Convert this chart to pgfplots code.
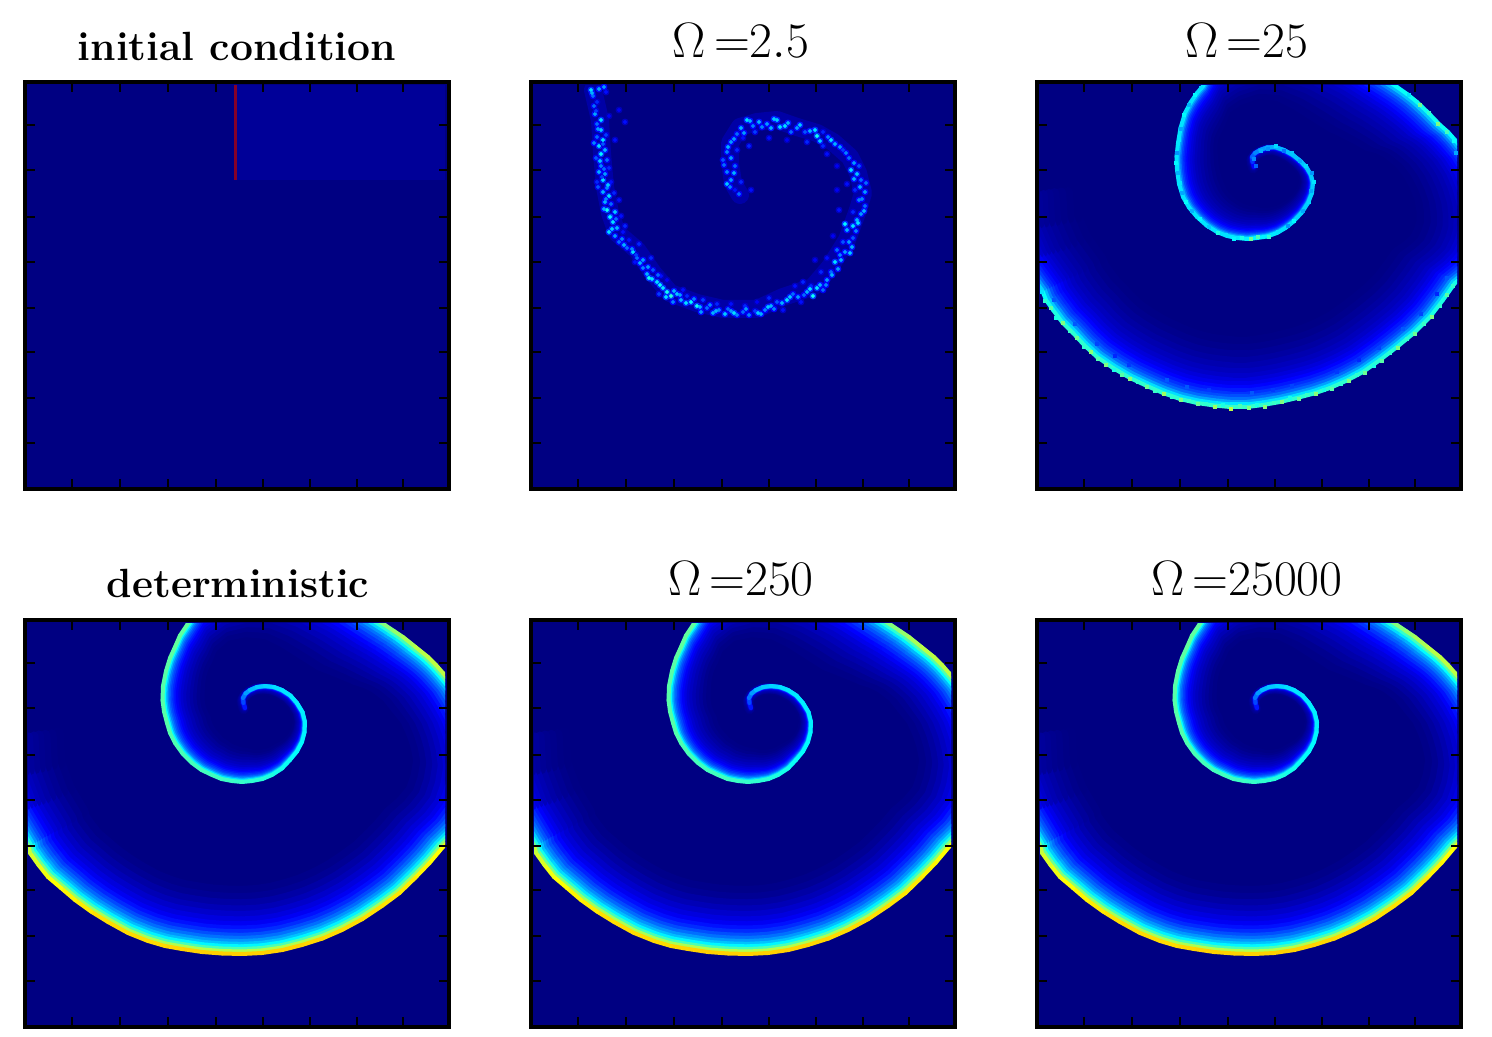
\documentclass[border=0pt]{standalone}
\usepackage{pgfplots}
\usepackage{pgfplotstable}
\pgfplotsset{compat=1.18}
\definecolor{navy}{RGB}{0,0,130}
\definecolor{rectblue}{RGB}{0,0,152}
\definecolor{redline}{RGB}{135,0,40}
\definecolor{bandblue}{RGB}{0,0,190}

\pgfplotstableread{
x y v k
220 88 .12 .20
218.5 83 .17 .18
218 78 .22 .17
220.5 73.5 .26 .14
225 70 .30 .11
232 67 .32 .10
240 66 .33 .10
249 67 .34 .10
257 70 .35 .10
265.5 75.5 .355 .09
272 83 .36 .08
277.5 92 .36 .085
280 102 .36 .09
279.5 112.5 .365 .11
277 122 .37 .14
272 131.5 .375 .18
265 140 .38 .23
257 148.5 .39 .27
247 155 .40 .32
237.5 159 .41 .36
227 161 .42 .41
217 162 .425 .43
207 161 .43 .45
196.5 159 .435 .47
187 155 .44 .49
176.5 150 .44 .50
167 143 .44 .52
157.5 133.5 .445 .525
150 123 .45 .53
145 113 .455 .535
142 103 .46 .54
139 91.5 .46 .52
137.5 80 .46 .50
138 66 .46 .48
141 51 .46 .46
145 38 .465 .435
150 27 .47 .41
155 15.5 .47 .40
162 5 .47 .39
172 -10 .47 .36
195 -24 .47 .33
225 -34 .48 .35
260 -37 .48 .38
295 -30 .49 .42
330 -14 .50 .44
360 5 .50 .44
369 11 .51 .43
378 17 .53 .42
390.5 27 .55 .40
403 37 .56 .38
411 45 .56 .35
418 53 .56 .33
430 68 .56 .31
440 85 .56 .30
447 102 .56 .28
452 120 .56 .27
454.5 137 .57 .26
455 155 .58 .25
451.5 176 .59 .25
445 195 .60 .25
433 212 .61 .255
418 227 .62 .26
404.5 243 .63 .26
390 258 .64 .26
374.5 273 .65 .26
357 286 .65 .26
337.5 299 .66 .26
317 310 .66 .26
297.5 318.5 .66 .26
277 325 .67 .26
257.5 330 .67 .26
237 333 .67 .26
217 334 .67 .26
197 333.5 .67 .26
177 332 .67 .26
157 329 .67 .26
140 326 .66 .26
123 321 .66 .26
103 313 .66 .26
83 302 .66 .26
66 291.5 .65 .26
50 280 .64 .26
36 268 .63 .26
23 257 .62 .26
13.5 245 .60 .26
5 233 .58 .26
3 225 .56 .26
-15 195 .42 .26
-28 160 .28 .26
-30 120 .10 .26
}\sdet

\pgfplotstableread{
x y v k
217 85 .10 .20
215.5 80 .15 .18
215 75 .20 .17
218 71 .24 .14
223 68 .27 .11
230 65.5 .29 .10
238 65 .30 .10
247 68 .31 .10
256 73 .31 .10
263.5 79 .32 .10
270 86 .32 .10
274 93 .32 .11
276 101 .32 .12
275 111 .33 .15
271 121 .33 .18
264.5 131 .33 .22
256 140 .34 .26
248.5 146 .34 .30
240 151 .35 .34
230 154.5 .36 .38
220 156 .37 .42
210 157 .37 .44
200 156 .36 .46
190 154 .35 .48
180 150 .35 .50
169.5 143.5 .35 .51
160 135 .35 .52
152 125.5 .35 .53
146 115 .35 .54
142 102 .35 .53
140 88 .35 .52
139.5 74.5 .35 .50
141 61 .35 .48
143.5 46 .35 .45
148 31 .35 .42
153.5 20.5 .35 .41
160 11 .35 .40
166 4 .35 .38
175 -12 .35 .36
195 -24 .36 .35
225 -34 .36 .35
260 -37 .36 .38
295 -30 .37 .42
330 -14 .37 .44
360 5 .38 .44
370 12 .38 .43
380 20 .39 .42
391.5 31 .39 .40
403 43 .39 .38
411 50 .38 .35
418 58 .37 .33
430 73 .36 .31
440 90 .35 .30
446 107 .34 .29
450 125 .34 .28
451 140 .34 .275
450 155 .35 .27
446 168 .36 .27
440 180 .37 .27
430 191 .38 .275
418 201 .39 .28
406 218 .40 .28
393 235 .40 .28
377 251 .41 .28
360 265 .41 .28
343 278 .41 .28
326 290 .42 .28
310 298.5 .42 .28
293 306 .42 .28
277 311.5 .42 .28
260 316 .42 .28
243 320 .42 .28
226 323 .42 .28
210 325 .43 .28
193 325 .43 .28
177 323.5 .43 .28
160 321 .42 .28
143 317 .42 .28
126 311 .42 .28
110 304 .42 .28
93 296 .42 .28
76 286 .42 .28
60 275 .42 .28
47 263 .42 .28
36 251 .42 .28
25 240 .41 .28
16 228 .40 .28
9 218 .39 .28
5 208 .37 .28
-15 180 .30 .28
-28 150 .21 .28
-30 115 .08 .28
}\ssto

\pgfplotstableread{
x y m
219 84 .22
217 77 .26
224 69 .30
231 67 .27
239 64 .34
247 69 .24
255 71 .32
263 79 .29
269 84 .34
275 91 .27
277 100 .35
274 109 .29
272 120 .34
266 129 .29
257 139 .37
251 144 .27
241 150 .35
232 155 .42
221 155 .45
214 157 .48
205 156 .40
197 157 .37
189 153 .35
181 151 .40
172 145 .32
163 137 .37
155 129 .30
149 120 .38
145 111 .29
143 101 .35
141 91 .30
139 81 .37
140 71 .27
142 58 .35
144 47 .29
147 33 .37
152 23 .30
158 13 .37
164 6 .34
372 13 .35
383 23 .48
392 31 .42
401 42 .50
410 50 .44
417 59 .38
419 71 .29
5 210 .35
8 219 .42
14 226 .46
19 236 .40
26 241 .50
33 249 .43
40 256 .48
47 265 .42
54 270 .51
61 277 .45
69 283 .50
77 288 .40
85 293 .46
93 297 .51
101 300 .42
110 305 .48
118 309 .43
127 312 .53
135 315 .42
144 318 .50
152 319 .43
161 322 .48
169 322 .42
178 325 .53
186 323 .40
194 327 .56
203 324 .45
212 326 .50
220 323 .40
228 325 .51
237 321 .43
245 320 .50
253 316 .40
262 317 .48
270 313 .43
279 312 .51
287 308 .40
295 307 .46
304 302 .42
312 299 .50
320 293 .42
328 291 .48
337 284 .40
345 279 .46
353 271 .42
361 266 .50
370 257 .42
378 252 .48
387 242 .43
395 235 .50
403 224 .42
410 213 .46
416 204 .42
60 262 .19
92 283 .18
130 298 .21
172 308 .18
215 311 .21
255 304 .19
300 290 .18
342 266 .19
384 232 .19
410 196 .21
17 218 .21
38 242 .21
78 274 .16
150 305 .21
236 308 .18
322 278 .16
366 247 .21
400 212 .16
}\sspeck

\pgfplotstableread{
x y
62 8
69 38
71 71
74 105
79 131
86 151
106 168
122 191
139 211
166 221
192 227
226 227
252 215
282 205
299 185
316 158
327 128
332 111
327 91
319 75
302 60
286 51
266 45
246 38
226 40
209 45
199 61
199 81
202 101
209 113
}\sband

\pgfplotstableread{
x y m
60 8 .30
68 7 .25
62 14 .20
75 10 .12
63 24 .20
64 32 .25
70 38 .30
88 28 .10
66 42 .20
94 40 .12
70 48 .28
66 55 .20
72 58 .30
84 58 .12
68 64 .30
74 68 .26
70 72 .32
65 76 .18
76 78 .20
70 84 .22
68 90 .26
74 92 .24
72 98 .30
80 100 .12
76 106 .22
72 110 .26
78 114 .30
74 120 .26
80 122 .20
76 128 .34
84 130 .28
90 134 .12
82 140 .30
86 146 .26
78 150 .30
84 154 .24
92 150 .12
88 160 .20
98 158 .12
96 166 .20
102 170 .30
108 162 .14
106 176 .20
112 178 .24
112 186 .22
116 192 .26
122 188 .18
118 196 .34
126 200 .30
130 194 .12
132 206 .30
136 210 .34
140 214 .36
146 212 .28
150 218 .26
142 220 .22
156 214 .14
160 220 .32
166 224 .34
170 230 .24
176 226 .20
182 231 .26
188 228 .22
194 232 .28
200 229 .24
206 233 .22
212 230 .20
218 233 .22
224 229 .16
230 232 .26
234 228 .22
240 224 .26
246 220 .18
252 228 .12
256 218 .30
262 212 .20
270 220 .12
276 210 .26
282 214 .34
286 206 .30
292 208 .20
280 204 .14
296 198 .24
300 190 .20
304 180 .30
296 176 .12
310 178 .26
314 170 .24
306 168 .20
318 160 .24
312 160 .18
322 156 .18
316 148 .26
322 144 .30
314 142 .32
326 138 .26
330 132 .24
322 130 .14
334 124 .20
328 118 .22
334 110 .24
324 108 .14
330 98 .20
326 92 .28
320 88 .30
328 84 .18
318 76 .20
312 68 .16
304 62 .26
300 58 .30
292 64 .14
286 54 .34
284 48 .30
292 50 .14
274 50 .18
266 46 .24
260 50 .20
254 44 .30
246 38 .28
240 46 .26
236 42 .24
228 40 .26
222 44 .22
216 38 .30
210 46 .26
206 52 .20
218 64 .14
200 60 .24
196 70 .22
192 78 .18
200 76 .24
204 84 .20
196 90 .22
200 98 .24
196 102 .28
210 100 .14
208 112 .20
220 108 .12
204 108 .12
66 20 .14
78 34 .10
72 62 .18
78 86 .14
66 100 .14
88 118 .12
80 134 .18
94 144 .14
104 180 .12
120 176 .14
128 212 .16
136 198 .10
152 208 .12
172 218 .16
186 222 .14
200 222 .12
214 224 .14
226 220 .10
238 216 .14
264 204 .12
272 200 .14
290 190 .14
284 178 .10
302 154 .10
308 128 .12
306 108 .10
316 102 .12
306 84 .10
296 72 .12
276 60 .14
256 58 .10
238 56 .12
224 50 .16
212 56 .12
206 68 .14
61 11 .26
73 5 .24
65 29 .16
67 47 .24
75 53 .16
63 61 .22
69 79 .28
73 87 .20
71 95 .16
67 105 .18
77 103 .28
75 117 .22
83 111 .14
73 127 .26
79 135 .32
85 137 .20
81 147 .28
91 157 .22
93 163 .26
101 167 .22
105 173 .16
109 181 .26
117 185 .24
121 197 .30
127 193 .20
129 203 .32
135 215 .30
143 209 .26
149 213 .24
155 221 .30
163 217 .22
169 225 .26
179 223 .22
185 229 .26
197 227 .20
203 231 .30
215 227 .24
227 231 .28
237 225 .28
243 227 .22
251 221 .26
259 215 .28
267 215 .24
273 213 .20
279 207 .30
289 203 .26
295 203 .22
301 193 .26
307 187 .24
309 173 .22
319 171 .28
321 165 .26
325 149 .22
327 141 .30
333 129 .26
331 117 .22
329 105 .26
335 101 .20
323 97 .26
323 81 .24
315 71 .22
309 65 .24
297 55 .22
289 59 .28
279 49 .26
269 43 .28
257 41 .26
249 45 .30
243 37 .28
231 45 .22
219 39 .26
213 51 .24
203 57 .24
197 65 .26
193 83 .20
203 91 .26
199 105 .22
}\sdots

\newcommand{\layer}[4]{%
  \addplot[mesh,line width=#3pt,line cap=round,line join=round,point meta=explicit,forget plot]
    table[x expr={212+(\thisrow{x}-212)*(1-#2*\thisrow{k})},
          y expr={95+(\thisrow{y}-95)*(1-#2*\thisrow{k})},
          meta expr={\thisrow{v}*#4}] {#1};
}
\newcommand{\spiral}[1]{%
  \layer{#1}{1.00}{6}{.015}
  \layer{#1}{.90}{5}{.03}
  \layer{#1}{.80}{5}{.055}
  \layer{#1}{.70}{5}{.08}
  \layer{#1}{.62}{4.5}{.11}
  \layer{#1}{.54}{4}{.14}
  \layer{#1}{.47}{3.5}{.17}
  \layer{#1}{.41}{3}{.21}
  \layer{#1}{.35}{3}{.25}
  \layer{#1}{.30}{2.5}{.30}
  \layer{#1}{.25}{2.5}{.35}
  \layer{#1}{.20}{2.5}{.41}
  \layer{#1}{.16}{2.2}{.47}
  \layer{#1}{.12}{2.2}{.55}
  \layer{#1}{.08}{2}{.67}
  \layer{#1}{.04}{2}{.82}
  \layer{#1}{0}{2}{1}
}
\newcommand{\datapanel}[3]{%
  \pgfmathsetmacro\bx{#1*0.5}
  \pgfmathsetmacro\by{(1037-#2-407)*0.5}
  \fill[navy] (\bx pt,\by pt) rectangle ++(212pt,203.5pt);
  \pgfmathsetmacro\ax{(#1+3)*0.5}
  \pgfmathsetmacro\ay{(1037-#2-404)*0.5}
  \begin{axis}[at={(\ax pt,\ay pt)},anchor=south west,scale only axis,
    width=208.5pt,height=200pt,xmin=3,xmax=420,ymin=4,ymax=404,y dir=reverse,
    hide axis,colormap/jet,point meta min=0,point meta max=1]
  #3
  \end{axis}
  \begin{axis}[at={(\bx pt,\by pt)},anchor=south west,scale only axis,
    width=212pt,height=203.5pt,xmin=0,xmax=424,ymin=0,ymax=407,y dir=reverse,
    tick align=inside,xtick={47,95,143,191,238,285,332,378},
    ytick={43,88,135,180,226,270,316,361},xticklabels={},yticklabels={},
    major tick length=5pt,tick style={black,line width=1.1pt},
    axis line style={line width=2.4pt}]
  \end{axis}
}
\newcommand{\ttl}[3]{\node[anchor=base,font=\fontsize{24.4}{28}\selectfont,inner sep=0pt] at ({#1*0.5pt},{(1037-#2)*0.5pt}) {#3};}
\newcommand{\ttlb}[3]{\node[anchor=base,font=\fontsize{20.4}{24}\selectfont\bfseries,inner sep=0pt] at ({#1*0.5pt},{(1037-#2)*0.5pt}) {#3};}

\begin{document}
\begin{tikzpicture}
\useasboundingbox (0,0) rectangle (746pt,518.5pt);
\datapanel{25}{82}{
  \addplot[fill=rectblue,draw=none,forget plot] coordinates {(212,3) (420,3) (420,98) (212,98)} --cycle;
  \addplot[redline,line width=1.5pt,forget plot] coordinates {(210,3) (210,98)};
}
\datapanel{531}{82}{
  \addplot[bandblue,line width=9pt,line join=round,line cap=round,opacity=.6,forget plot] table[x=x,y=y] {\sband};
  \addplot[scatter,only marks,mark=*,mark size=1.5pt,point meta=explicit,forget plot,
    scatter/use mapped color={draw=mapped color,fill=mapped color}]
    table[x=x,y=y,meta expr={\thisrow{m}*.55}] {\sdots};
  \addplot[scatter,only marks,mark=*,mark size=.8pt,point meta=explicit,forget plot,
    scatter/use mapped color={draw=mapped color,fill=mapped color}]
    table[x=x,y=y,meta expr={\thisrow{m}*1.15}] {\sdots};
}
\datapanel{1037}{82}{\spiral{\ssto}
  \addplot[scatter,only marks,mark=square*,mark size=.8pt,point meta=explicit,forget plot,
    scatter/use mapped color={draw=mapped color,fill=mapped color}]
    table[x=x,y=y,meta=m] {\sspeck};
}
\datapanel{25}{620}{\spiral{\sdet}}
\datapanel{531}{620}{\spiral{\sdet}}
\datapanel{1037}{620}{\spiral{\sdet}}
\ttlb{237}{61}{initial condition}
\ttl{741}{58}{$\Omega\,{=}2.5$}
\ttl{1247}{58}{$\Omega\,{=}25$}
\ttlb{238}{598}{deterministic}
\ttl{741}{596}{$\Omega\,{=}250$}
\ttl{1247}{596}{$\Omega\,{=}25000$}
\end{tikzpicture}
\end{document}
